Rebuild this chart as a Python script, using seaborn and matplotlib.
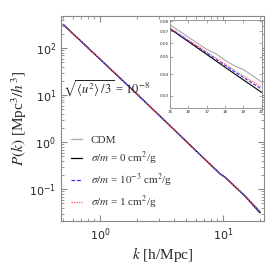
import numpy as np
import pandas as pd
import seaborn as sns
import matplotlib.pyplot as plt

# main panel
k_main = [0.5, 0.7, 1.0, 2.0, 3.0, 5.0, 7.0, 9.5, 10.0, 10.5, 15.0, 20.0]
p_cdm = [320, 140, 58, 10.5, 3.8, 1.05, 0.45, 0.21, 0.19, 0.175, 0.074, 0.034]
p_s0 = [320, 140, 58, 10.5, 3.8, 1.05, 0.45, 0.21, 0.195, 0.175, 0.072, 0.0314]
p_s3 = [320, 140, 58, 10.5, 3.8, 1.05, 0.45, 0.21, 0.19, 0.175, 0.0725, 0.0328]
p_s1 = [320, 140, 58, 10.5, 3.8, 1.05, 0.45, 0.21, 0.19, 0.175, 0.0725, 0.0337]

# inset zoom 15-20
k_ins = [15, 16, 17, 17.5, 18, 18.5, 19, 20]
i_cdm = [0.0762, 0.0648, 0.0552, 0.0522, 0.0478, 0.0446, 0.0424, 0.0360]
i_s0 = [0.0722, 0.0611, 0.0517, 0.0475, 0.0437, 0.0402, 0.0370, 0.0314]
i_s3 = [0.0728, 0.0619, 0.0527, 0.0486, 0.0448, 0.0413, 0.0382, 0.0328]
i_s1 = [0.0730, 0.0622, 0.0534, 0.0492, 0.0455, 0.0421, 0.0390, 0.0337]

labels = ['CDM', r'$\sigma/m$ = 0 cm$^2$/g', r'$\sigma/m$ = $10^{-3}$ cm$^2$/g', r'$\sigma/m$ = 1 cm$^2$/g']
colors = ['#a8a8a8', 'black', '#3030ff', '#ff5050']
styles = ['-', '-', (0, (3, 1.5)), (0, (1, 1))]

sns.set_style('ticks')
plt.rcParams['mathtext.fontset'] = 'stix'
plt.rcParams['font.family'] = 'DejaVu Sans'

fig = plt.figure(figsize=(2.73, 2.73), dpi=100)
ax = fig.add_axes([0.223, 0.19, 0.744, 0.751])

for lab, p, c, ls in zip(labels, [p_cdm, p_s0, p_s3, p_s1], colors, styles):
    sns.lineplot(x=k_main, y=p, ax=ax, color=c, linestyle=ls, lw=0.9, label=lab)

ax.set_xscale('log')
ax.set_yscale('log')
ax.set_xlim(0.48, 21.5)
ax.set_ylim(0.021, 480)
ax.tick_params(which='both', direction='in', top=True, right=True, color='#888888', labelsize=8)
ax.tick_params(which='major', length=4)
ax.tick_params(which='minor', length=2)
for s in ax.spines.values():
    s.set_color('#888888')
ax.set_xlabel(r'$k$ [h/Mpc]', fontsize=11, family='Liberation Serif', labelpad=2)
ax.set_ylabel(r'$P(k)$ [Mpc$^3/h^3$]', fontsize=11, family='Liberation Serif', labelpad=0)
ax.text(0.5, 11, r'$\sqrt{\langle u^2\rangle\;/3}$ = $10^{-8}$', fontsize=9, family='Liberation Serif')

leg = ax.legend(loc='lower left', frameon=False, handlelength=1.0,
                handletextpad=0.8, labelspacing=0.45, borderaxespad=0.5,
                prop={'family': 'Liberation Serif', 'size': 8})
for t in leg.get_texts():
    t.set_color('#333333')

ins = fig.add_axes([0.623, 0.603, 0.336, 0.325])
for lab, p, c, ls in zip(labels, [i_cdm, i_s0, i_s3, i_s1], colors, styles):
    sns.lineplot(x=k_ins, y=p, ax=ins, color=c, linestyle=ls, lw=0.8, legend=False)
ins.set_yscale('log')
ins.set_xlim(15, 20)
ins.set_ylim(0.0255, 0.0815)
ins.set_xticks([15, 16, 17, 18, 19, 20])
ins.set_yticks([0.03, 0.04, 0.05, 0.06, 0.07, 0.08])
ins.set_yticklabels(['0.03', '0.04', '0.05', '0.06', '0.07', '0.08'])
ins.yaxis.set_minor_locator(plt.NullLocator())
ins.tick_params(which='both', direction='in', top=True, right=True, color='#888888',
                labelsize=3, length=2, pad=1, width=0.5)
for s in ins.spines.values():
    s.set_color('#888888')
    s.set_linewidth(0.6)
ins.set_facecolor('white')

fig.savefig('out.png', dpi=100)
